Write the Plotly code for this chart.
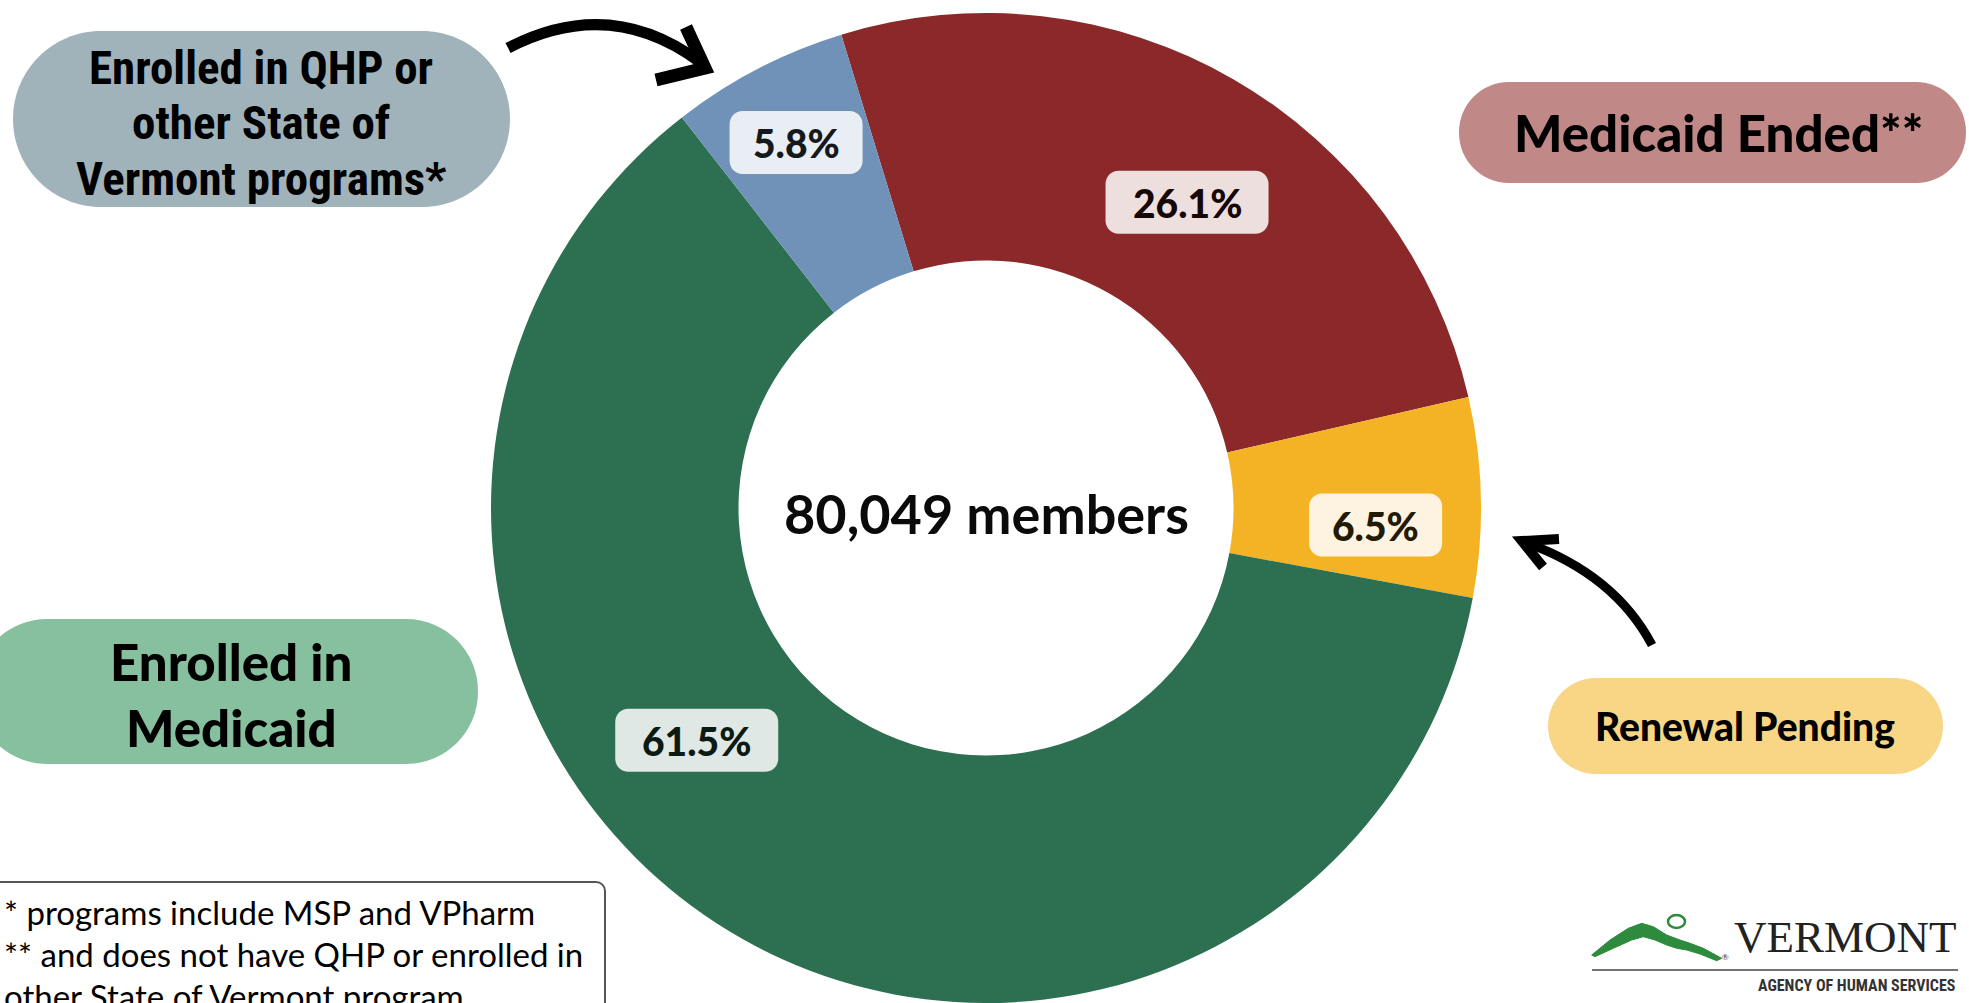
import math
import plotly.graph_objects as go

W, H = 1969, 1003

# ---------------- data ----------------
categories = ["Medicaid Ended", "Renewal Pending", "Enrolled in Medicaid",
              "Enrolled in QHP or other State of Vermont programs"]
percent_values = [26.1, 6.5, 61.5, 5.8]
total_label = "80,049 members"
footnotes = ["* programs include MSP and VPharm",
             "** and does not have QHP or enrolled in",
             "other State of Vermont program"]

# ---------------- styles ----------------
slice_colors = ["#8B282A", "#F4B324", "#2C7051", "#7192B8"]
box_colors = ["#EEDFDF", "#FDF3E0", "#DFE8E4", "#E8EEF3"]
box_text_colors = ["#170606", "#231A05", "#0B1A12", "#15191D"]
# label placement: fraction along the slice's arc, radius in px
label_frac = [0.535, 0.66, 0.59, 0.5]
label_radius = [366, 390, 371, 412]

LATO = "Lato, 'Noto Sans', sans-serif"
LATO_HEAVY = "'Lato Black', 'Lato Heavy', Lato, 'Noto Sans', sans-serif"
NARROW = "'Liberation Sans Narrow', 'Roboto Condensed', 'DejaVu Sans Condensed', sans-serif"
SERIF = "'Liberation Serif', 'DejaVu Serif', serif"

CX, CY, R = 986, 508, 495
ROT = -17

fig = go.Figure()

# invisible pixel-space axes for shapes / annotations
fig.add_trace(go.Scatter(x=[], y=[], showlegend=False, hoverinfo="skip"))

fig.add_trace(go.Pie(
    values=percent_values, labels=categories, sort=False,
    direction="clockwise", rotation=ROT, hole=0.5,
    marker=dict(colors=slice_colors, line=dict(width=0)),
    textinfo="none", hoverinfo="skip", showlegend=False,
    domain=dict(x=[(CX - R) / W, (CX + R) / W], y=[1 - (CY + R) / H, 1 - (CY - R) / H]),
))


def rrect(x0, y0, x1, y1, r):
    k = 0.5523 * r
    return (f"M {x0+r},{y0} L {x1-r},{y0} C {x1-r+k},{y0} {x1},{y0+r-k} {x1},{y0+r} "
            f"L {x1},{y1-r} C {x1},{y1-r+k} {x1-r+k},{y1} {x1-r},{y1} "
            f"L {x0+r},{y1} C {x0+r-k},{y1} {x0},{y1-r+k} {x0},{y1-r} "
            f"L {x0},{y0+r} C {x0},{y0+r-k} {x0+r-k},{y0} {x0+r},{y0} Z")


shapes = []
annotations = []


def text(x, y, s, size, family=LATO, weight="bold", color="#000", xanchor="center", yanchor="middle"):
    annotations.append(dict(x=x, y=y, xref="x", yref="y", text=s, showarrow=False,
                            xanchor=xanchor, yanchor=yanchor,
                            font=dict(family=family, size=size, color=color, weight=weight)))


# percentage labels derived from values
total = sum(percent_values)
start = ROT
for i, v in enumerate(percent_values):
    span = v / total * 360
    ang = math.radians(start + label_frac[i] * span)
    lx = CX + label_radius[i] * math.sin(ang)
    ly = CY - label_radius[i] * math.cos(ang)
    s = f"{v:.1f}%"
    bw = 30 * len(s) + 13
    bh = 63
    shapes.append(dict(type="path", xref="x", yref="y", layer="above",
                       path=rrect(lx - bw / 2, ly - bh / 2, lx + bw / 2, ly + bh / 2, 13),
                       fillcolor=box_colors[i], line=dict(width=0)))
    text(lx, ly + 1, s, 39, family=LATO_HEAVY, weight=900, color=box_text_colors[i])
    start += span

# center total
text(CX, 513, total_label, 54, weight=700, color="#0A0A0A")

# callout pills
pills = [
    dict(box=(13, 31, 510, 207), r=88, color="#A1B3BA",
         lines=["Enrolled in QHP or", "other State of", "Vermont programs*"],
         ys=[67, 122, 178], x=261, size=47, family=NARROW, weight="bold"),
    dict(box=(1459, 82, 1966, 183), r=50, color="#C08886",
         lines=["Medicaid Ended**"], ys=[132], x=1718, size=51, family=LATO_HEAVY, weight=900),
    dict(box=(-25, 619, 478, 764), r=72, color="#87C09F",
         lines=["Enrolled in", "Medicaid"], ys=[661, 727], x=231, size=51, family=LATO_HEAVY, weight=900),
    dict(box=(1548, 678, 1943, 774), r=48, color="#F8D685",
         lines=["Renewal Pending"], ys=[726], x=1745, size=39, family=LATO_HEAVY, weight=900),
]
for p in pills:
    x0, y0, x1, y1 = p["box"]
    shapes.append(dict(type="path", xref="x", yref="y", layer="below",
                       path=rrect(x0, y0, x1, y1, p["r"]),
                       fillcolor=p["color"], line=dict(width=0)))
    for ln, yy in zip(p["lines"], p["ys"]):
        text(p["x"], yy, ln, p["size"], family=p["family"], weight=p["weight"], color="#000")

# arrows
arrow_paths = [
    ("M 508,48 Q 610,-5 700,62", 11),
    ("M 686,27 L 705,68 L 656,80", 13),
    ("M 1652,645 Q 1615,575 1527,543", 9),
    ("M 1559,539 L 1522,541 L 1543,567", 10),
]
for pth, w in arrow_paths:
    shapes.append(dict(type="path", xref="x", yref="y", layer="above", path=pth,
                       line=dict(color="#000", width=w)))

# footnote box
shapes.append(dict(type="path", xref="x", yref="y", layer="above",
                   path=rrect(-20, 882, 605, 1030, 9),
                   fillcolor="#FFFFFF", line=dict(color="#555555", width=2)))
for ln, yy in zip(footnotes, [912, 954, 996]):
    text(2, yy, ln, 33, weight=400, color="#000", xanchor="left")

# logo
mountain = [(1591.7, 955), (1610, 940), (1628.3, 928.3), (1641.7, 923.3), (1653.3, 926.7),
            (1666.7, 935), (1680, 940), (1690, 943.3), (1703.3, 948.3), (1721.7, 958.3),
            (1716.7, 960.7), (1700, 954), (1686.7, 950), (1676.7, 948.3), (1666.7, 945),
            (1655, 940), (1643.3, 936.7), (1631.7, 940), (1613.3, 948.3), (1595, 956.7)]
mp = "M " + " L ".join(f"{x},{y}" for x, y in mountain) + " Z"
shapes.append(dict(type="path", xref="x", yref="y", layer="above", path=mp,
                   fillcolor="#2E8B3E", line=dict(color="#2E8B3E", width=1)))
shapes.append(dict(type="circle", xref="x", yref="y", layer="above",
                   x0=1668, x1=1685, y0=915, y1=928, line=dict(color="#2E8B3E", width=2.5)))
shapes.append(dict(type="line", xref="x", yref="y", layer="above",
                   x0=1592, x1=1958, y0=970, y1=970, line=dict(color="#444", width=1.5)))
text(1725, 957, "®", 8, family=LATO, weight=400, color="#333")
text(1959, 937, "VERMONT", 45, family=SERIF, weight=400, color="#222", xanchor="right")
text(1958, 985, "AGENCY OF HUMAN SERVICES", 16, family=NARROW, weight="bold", color="#333", xanchor="right")
text(1958, 1004, "DEPARTMENT OF VERMONT HEALTH ACCESS", 16, family=NARROW, weight="bold", color="#333", xanchor="right")

fig.update_layout(
    width=W, height=H, margin=dict(l=0, r=0, t=0, b=0),
    paper_bgcolor="#FFFFFF", plot_bgcolor="rgba(0,0,0,0)",
    xaxis=dict(range=[0, W], visible=False, fixedrange=True),
    yaxis=dict(range=[H, 0], visible=False, fixedrange=True),
    shapes=shapes, annotations=annotations, showlegend=False,
)

fig.write_html("out.html", config={"displayModeBar": False},
               post_script="document.body.style.margin='0';document.body.style.overflow='hidden';")
